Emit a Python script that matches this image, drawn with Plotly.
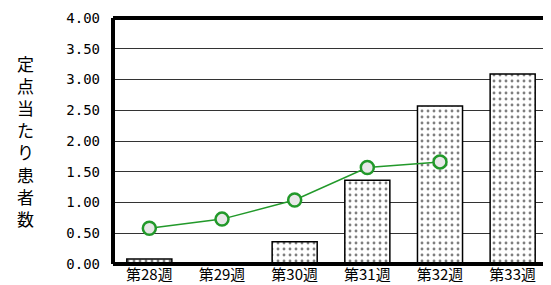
import plotly.graph_objects as go

weeks = ["第28週", "第29週", "第30週", "第31週", "第32週", "第33週"]
bar_values = [0.08, None, 0.36, 1.36, 2.57, 3.09]
line_weeks = ["第28週", "第29週", "第30週", "第31週", "第32週"]
line_values = [0.58, 0.73, 1.04, 1.57, 1.66]
y_ticks = [0, 0.5, 1.0, 1.5, 2.0, 2.5, 3.0, 3.5, 4.0]
y_title = "定点当たり患者数"

# page has an 8px body margin; figure coordinates are page - 8
W, H = 543, 277
L, R, T, B = 105, 2, 10, 21
plot_h = H - T - B
plot_w = W - L - R

fig = go.Figure()
fig.add_trace(go.Bar(
    x=weeks, y=bar_values,
    marker=dict(color="white", line=dict(color="black", width=1.5),
                pattern=dict(shape=".", fgcolor="black", bgcolor="white", size=6, solidity=0.18)),
    width=0.62,
))
fig.add_trace(go.Scatter(
    x=line_weeks, y=line_values, mode="lines+markers",
    line=dict(color="#22992a", width=1.5),
    marker=dict(size=13, color="#e8e8e8", line=dict(color="#22992a", width=2.5)),
))

fig.update_layout(
    width=W, height=H,
    margin=dict(l=L, r=R, t=T, b=B),
    plot_bgcolor="white", paper_bgcolor="white",
    showlegend=False,
    xaxis=dict(type="category", categoryorder="array", categoryarray=weeks,
               range=[-0.5, 5.5], showgrid=False, showline=False, ticks="",
               automargin=False, ticklabelstandoff=0,
               tickfont=dict(family="Noto Sans CJK JP", size=15, color="black")),
    yaxis=dict(range=[0, 4], tickvals=y_ticks,
               ticktext=[f"{v:.2f}" for v in y_ticks],
               showgrid=True, gridcolor="#333", gridwidth=1,
               showline=False, ticks="", zeroline=False, automargin=False,
               ticklabelstandoff=12,
               tickfont=dict(family="DejaVu Sans Mono", size=14, color="black")),
    shapes=[
        dict(type="line", xref="paper", yref="paper", x0=1, x1=1, y0=0, y1=1,
             line=dict(color="black", width=1.5)),
        dict(type="line", xref="paper", yref="paper", x0=0, x1=1, y0=1, y1=1,
             line=dict(color="black", width=4)),
        dict(type="line", xref="paper", yref="paper", x0=0, x1=1, y0=0, y1=0,
             line=dict(color="black", width=4)),
        dict(type="line", xref="paper", yref="paper", x0=0, x1=0, y0=0, y1=1,
             line=dict(color="black", width=4)),
    ],
    annotations=[dict(text="<br>".join(y_title), xref="paper", yref="paper",
                      x=(17 - L) / plot_w, xanchor="center",
                      y=(H - B - 133) / plot_h, yanchor="middle", showarrow=False,
                      font=dict(family="Noto Sans CJK JP", size=17, color="black"))],
)
fig.write_html("out.html")
